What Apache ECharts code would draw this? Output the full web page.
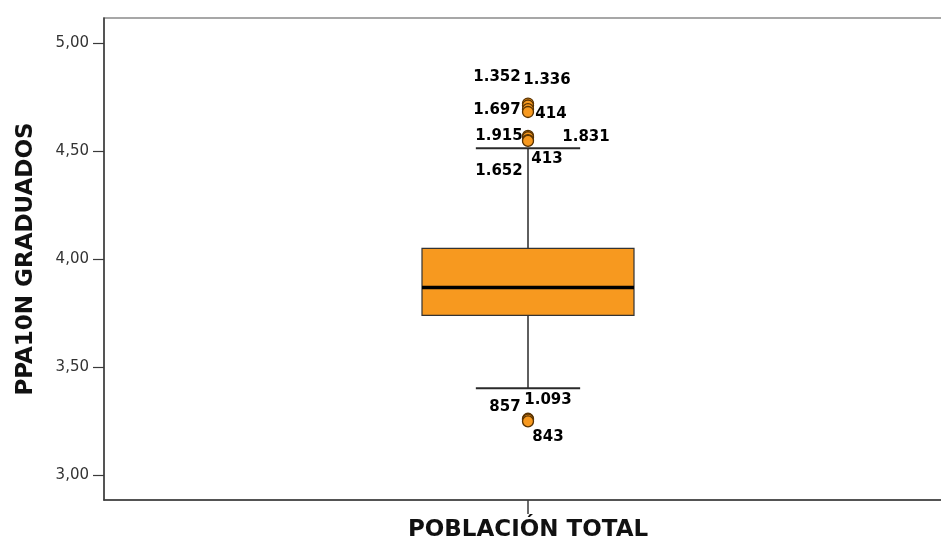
<!DOCTYPE html>
<html>
<head>
<meta charset="utf-8">
<script src="https://cdn.jsdelivr.net/npm/echarts@6/dist/echarts.min.js"></script>
<style>
  html, body { margin: 0; padding: 0; background: #fff; }
  #chart { width: 941px; height: 540px; }
</style>
</head>
<body>
<div id="chart"></div>
<script>
// Group on the category axis
const categories = ['POBLACIÓN TOTAL'];

// Five-number summary: lower whisker, Q1, median, Q3, upper whisker
const boxStats = [3.403, 3.741, 3.870, 4.051, 4.514];

// Outlying cases and their case numbers
const outlierValues = [4.721, 4.712, 4.695, 4.682, 4.571, 4.565, 4.552, 4.548, 3.262, 3.258, 3.250];
const outlierCases = ['1.352', '1.336', '1.697', '414', '1.915', '1.831', '413', '1.652', '857', '1.093', '843'];

// Value axis ticks and extent
const yTicks = [3.0, 3.5, 4.0, 4.5, 5.0];
const yExtent = [2.886, 5.117];

// Pixel offsets that spread the case labels around stacked markers
const caseLabelOffsets = [
  [-31, -26], [19, -25], [-31, 1], [23, 2],
  [-29, 0], [58, 0], [19, 19], [-29, 30],
  [-23, -12], [20, -20], [20, 16]
];

const AXIS_COLOR = '#3a3a3a';
const BOX_FILL = '#F7991F';

function renderBox(params, api) {
  const cat = api.value(0);
  const lo = api.coord([cat, api.value(1)]);
  const q1 = api.coord([cat, api.value(2)]);
  const med = api.coord([cat, api.value(3)]);
  const q3 = api.coord([cat, api.value(4)]);
  const hi = api.coord([cat, api.value(5)]);
  const band = api.size([1, 0])[0];
  const boxW = band * 0.25;
  const capW = band * 0.123;
  const cx = lo[0];
  const whisker = { stroke: '#2a2a2a', lineWidth: 1.5 };
  return {
    type: 'group',
    children: [
      { type: 'line', shape: { x1: cx, y1: hi[1], x2: cx, y2: q3[1] }, style: whisker },
      { type: 'line', shape: { x1: cx, y1: q1[1], x2: cx, y2: lo[1] }, style: whisker },
      { type: 'line', shape: { x1: cx - capW / 2, y1: hi[1], x2: cx + capW / 2, y2: hi[1] }, style: { stroke: '#2a2a2a', lineWidth: 2 } },
      { type: 'line', shape: { x1: cx - capW / 2, y1: lo[1], x2: cx + capW / 2, y2: lo[1] }, style: { stroke: '#2a2a2a', lineWidth: 2 } },
      { type: 'rect', shape: { x: cx - boxW / 2, y: q3[1], width: boxW, height: q1[1] - q3[1] },
        style: { fill: BOX_FILL, stroke: '#333', lineWidth: 1.2 } },
      { type: 'line', shape: { x1: cx - boxW / 2, y1: med[1], x2: cx + boxW / 2, y2: med[1] },
        style: { stroke: '#000', lineWidth: 3.5 } }
    ]
  };
}

const chart = echarts.init(document.getElementById('chart'), null, { renderer: 'canvas' });

chart.setOption({
  animation: false,
  backgroundColor: '#fff',
  grid: {
    left: 104, width: 848, top: 18, bottom: 40,
    outerBoundsMode: 'none',
    containLabel: false,
    show: true, borderColor: '#8a8a8a', borderWidth: 1.5, backgroundColor: 'transparent'
  },
  xAxis: {
    type: 'category',
    data: categories,
    boundaryGap: true,
    axisLine: { show: true, lineStyle: { color: AXIS_COLOR, width: 1.5 } },
    axisTick: { show: true, alignWithLabel: true, length: 14, lineStyle: { color: AXIS_COLOR, width: 1.5 } },
    axisLabel: {
      margin: 19,
      fontFamily: 'DejaVu Sans', fontWeight: 'bold', fontSize: 23, color: '#111'
    },
    splitLine: { show: false }
  },
  yAxis: {
    type: 'value',
    min: yExtent[0],
    max: yExtent[1],
    name: 'PPA10N GRADUADOS',
    nameLocation: 'middle',
    nameGap: 66,
    nameTextStyle: { fontFamily: 'DejaVu Sans', fontWeight: 'bold', fontSize: 23, color: '#111' },
    axisLine: { show: true, lineStyle: { color: AXIS_COLOR, width: 1.5 } },
    axisTick: { show: true, length: 11, customValues: yTicks, lineStyle: { color: AXIS_COLOR, width: 1.2 } },
    axisLabel: {
      customValues: yTicks,
      margin: 15,
      fontFamily: 'DejaVu Sans', fontSize: 15, color: '#333',
      formatter: v => v.toFixed(2).replace('.', ',')
    },
    splitLine: { show: false }
  },
  series: [
    {
      type: 'custom',
      renderItem: renderBox,
      encode: { x: 0, y: [1, 2, 3, 4, 5] },
      data: [[0].concat(boxStats)],
      z: 2
    },
    {
      type: 'scatter',
      symbol: 'circle',
      symbolSize: 11,
      z: 3,
      itemStyle: { color: BOX_FILL, borderColor: '#5a3300', borderWidth: 1.3, opacity: 1 },
      label: {
        show: true,
        position: 'inside',
        fontFamily: 'DejaVu Sans', fontWeight: 'bold', fontSize: 15, color: '#000',
        textBorderWidth: 0
      },
      emphasis: { disabled: true },
      labelLayout: p => {
        const o = caseLabelOffsets[p.dataIndex];
        return { dx: o[0], dy: o[1], hideOverlap: false };
      },
      data: outlierValues.map((v, i) => ({
        value: [0, v],
        label: { formatter: outlierCases[i] }
      }))
    }
  ]
});
</script>
</body>
</html>
